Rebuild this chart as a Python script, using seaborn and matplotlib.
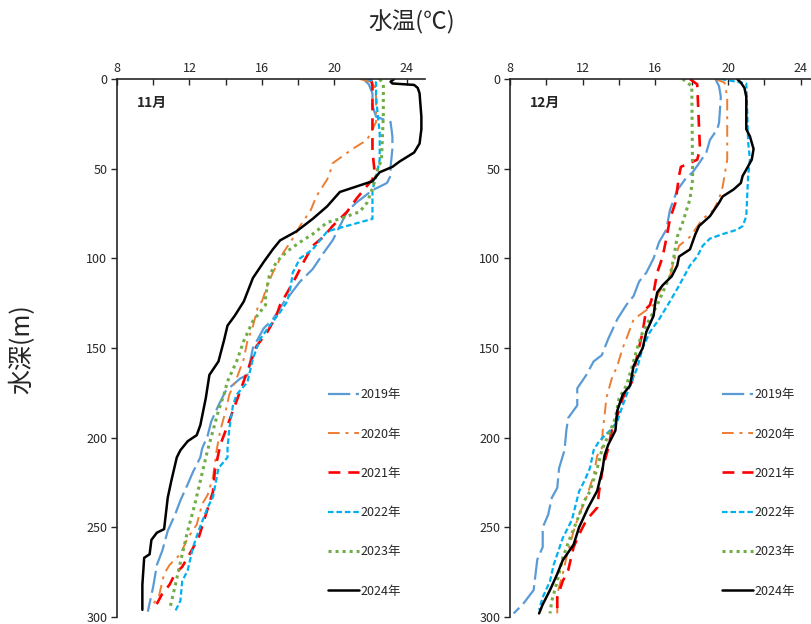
import matplotlib
matplotlib.use("Agg")
import matplotlib.pyplot as plt
from matplotlib.ticker import MultipleLocator
from matplotlib.lines import Line2D
import seaborn as sns

# --- data (depth in m, water temperature in degC) ---
years = ["2019年", "2020年", "2021年", "2022年", "2023年", "2024年"]
colors = ["#5B9BD5", "#ED7D31", "#FF0000", "#00B0F0", "#70AD47", "#000000"]

# November
nov_depth_2019 = [0, 3, 8, 15, 21, 24, 32, 39, 49, 54, 58, 62, 69, 74, 82, 90, 97, 106, 113, 121, 123,
                  134, 139, 150, 165, 167, 174, 182, 191, 199, 206, 211, 219, 226, 235, 243, 252, 263,
                  271, 283, 297]
nov_temp_2019 = [21.6, 21.9, 22.1, 22.1, 22.3, 23.1, 23.2, 23.2, 23.1, 23.1, 22.9, 22.1, 21.2, 20.7,
                 20.3, 19.9, 19.4, 18.8, 18.1, 17.5, 17.3, 16.6, 16.1, 15.5, 15.2, 14.8, 14.0, 13.6,
                 13.2, 13.0, 12.7, 12.6, 12.2, 11.9, 11.5, 11.2, 10.8, 10.5, 10.2, 10.0, 9.7]
nov_depth_2020 = [0, 2, 10, 24, 34, 39, 47, 54, 56, 65.5, 73, 82, 89, 96.5, 108, 115, 124, 126, 138,
                  146, 156, 167, 176, 185, 196, 207, 222, 232, 237, 248.5, 256, 265, 271, 276, 289, 295]
nov_temp_2020 = [21.4, 22.2, 22.3, 22.3, 21.8, 21.0, 19.9, 19.7, 19.6, 19.0, 18.7, 18.1, 17.7, 17.2,
                 16.6, 16.3, 16.0, 15.8, 15.5, 15.2, 15.0, 14.6, 14.2, 14.0, 13.7, 13.5, 13.3, 13.0,
                 12.7, 12.4, 11.9, 11.5, 10.9, 10.6, 10.3, 9.8]
nov_depth_2021 = [0, 3, 20, 40, 50, 56, 62, 67, 74, 82, 88, 93, 102, 110, 119, 126, 132, 141, 149, 160,
                  174, 185, 196, 204, 218.5, 230, 243, 256, 265, 272, 276, 282, 287, 294.5]
nov_temp_2021 = [22.0, 22.1, 22.1, 22.1, 22.2, 22.1, 21.6, 21.2, 20.7, 19.9, 19.4, 18.8, 18.3, 17.9,
                 17.4, 17.0, 16.8, 16.3, 15.7, 15.3, 14.8, 14.4, 14.0, 13.7, 13.4, 13.3, 12.9, 12.5,
                 12.0, 11.6, 11.2, 10.9, 10.5, 10.1]
nov_depth_2022 = [0, 2, 10, 21, 30, 45, 50, 62, 78, 83, 85, 90, 95, 100, 108, 115, 124, 130, 138, 145,
                  156, 169, 176, 182, 195, 206, 211, 217, 233, 239, 252, 261, 274, 280, 291, 297]
nov_temp_2022 = [21.8, 22.3, 22.3, 22.4, 22.5, 22.5, 22.4, 22.1, 22.1, 20.3, 19.6, 19.2, 18.8, 18.1,
                 17.7, 17.6, 17.4, 17.0, 16.4, 15.9, 15.5, 15.2, 14.6, 14.4, 14.2, 14.1, 14.1, 13.6,
                 13.3, 13.0, 12.5, 12.2, 11.9, 11.6, 11.5, 11.2]
nov_depth_2023 = [0, 3, 20, 45, 50, 61, 69, 74, 78, 80, 86.5, 91, 96, 102, 110, 121, 126, 135, 146,
                  157.5, 168.6, 176, 185, 196, 207, 224, 237, 252, 265, 274, 283, 296]
nov_temp_2023 = [22.5, 22.7, 22.7, 22.6, 22.4, 22.1, 21.8, 21.4, 20.3, 19.6, 18.8, 18.1, 17.4, 16.8,
                 16.4, 16.2, 16.2, 15.5, 15.0, 14.6, 14.1, 13.9, 13.6, 13.3, 13.0, 12.6, 12.3, 11.9,
                 11.6, 11.4, 11.2, 10.9]
nov_depth_2024 = [0, 1.5, 2.5, 3.3, 5, 8, 21, 28, 36, 41, 46, 49, 52, 57, 60, 63, 71, 78, 85, 90, 95,
                  102, 111, 124, 132, 137.5, 146, 157.5, 165, 178, 193, 198.6, 202, 207, 211, 224,
                  233.5, 251, 253, 257, 265, 267, 282, 296]
nov_temp_2024 = [23.3, 23.1, 23.2, 24.4, 24.6, 24.7, 24.8, 24.8, 24.7, 24.4, 23.6, 23.2, 22.5, 22.1,
                 21.2, 20.3, 19.6, 18.8, 17.9, 17.0, 16.6, 16.1, 15.5, 15.0, 14.5, 14.1, 13.9, 13.6,
                 13.1, 12.9, 12.6, 12.4, 11.9, 11.5, 11.3, 11.0, 10.8, 10.6, 10.2, 9.9, 9.8, 9.5,
                 9.4, 9.4]

# December
dec_depth_2019 = [0, 4, 10, 24.5, 28, 34, 41, 47, 52, 55, 62, 73, 84, 91, 100, 108, 113, 121, 126,
                  134, 145, 154, 157.5, 165, 172.5, 182, 189, 196, 207, 217, 228, 233.5, 243, 250,
                  261, 268, 285, 293, 298]
dec_temp_2019 = [19.3, 19.5, 19.6, 19.5, 19.4, 19.0, 18.8, 18.4, 18.05, 17.7, 17.2, 16.8, 16.6, 16.2,
                 15.9, 15.5, 15.1, 14.8, 14.4, 13.9, 13.4, 13.05, 12.6, 12.2, 11.7, 11.7, 11.2, 11.1,
                 11.0, 10.7, 10.6, 10.3, 10.1, 9.8, 9.8, 9.5, 9.3, 8.7, 8.2]
dec_depth_2020 = [0, 2, 10, 45, 54, 60, 67, 73, 78, 88, 93, 102, 110, 119, 126, 134, 145, 150, 160,
                  167, 178, 188, 196, 206, 210, 221, 233.5, 243, 252, 267, 276, 287, 298]
dec_temp_2020 = [19.3, 19.8, 19.95, 19.95, 19.8, 19.7, 19.5, 19.2, 18.6, 17.9, 17.3, 17.0, 16.8, 16.2,
                 15.9, 14.8, 14.4, 14.2, 13.9, 13.6, 13.3, 13.2, 13.1, 13.05, 12.8, 12.6, 12.2, 11.8,
                 11.5, 11.1, 10.9, 10.6, 10.6]
dec_depth_2021 = [0, 3, 39, 45, 49, 54, 69, 78, 89, 99, 108, 119, 126, 128, 141, 154, 169, 178, 188,
                  196, 206, 217, 230, 239, 246, 254, 261, 274, 280, 289, 298]
dec_temp_2021 = [17.9, 18.3, 18.45, 18.3, 17.4, 17.3, 17.1, 16.8, 16.6, 16.4, 16.1, 15.9, 15.7, 15.5,
                 15.3, 15.0, 14.7, 14.2, 13.9, 13.6, 13.4, 13.1, 12.9, 12.8, 12.2, 11.8, 11.5, 11.2,
                 10.9, 10.6, 10.6]
dec_depth_2022 = [0, 2.5, 35, 45, 54, 76.5, 82, 84, 86.5, 89, 93, 99, 104, 111.5, 117, 124, 134, 141,
                  150, 161, 171, 182, 191, 196, 202, 207, 217, 224, 230, 246, 256, 265, 271, 280,
                  289, 296]
dec_temp_2022 = [19.6, 21.0, 21.1, 21.2, 21.1, 21.0, 20.8, 20.5, 19.7, 19.0, 18.6, 18.3, 17.9, 17.5,
                 17.2, 16.8, 16.2, 15.7, 15.3, 15.0, 14.6, 14.2, 13.9, 13.5, 12.9, 12.6, 12.4, 12.1,
                 11.8, 11.4, 10.9, 10.6, 10.4, 10.2, 9.8, 9.6]
dec_depth_2023 = [0, 4, 56, 67, 80, 88, 100, 110, 119, 126, 141, 150, 161, 171, 178, 189, 199, 207,
                  217, 230, 235, 246, 256, 267, 280, 291, 298]
dec_temp_2023 = [17.5, 18.0, 18.05, 17.9, 17.5, 17.2, 17.0, 16.8, 16.4, 16.1, 15.3, 15.0, 14.7, 14.4,
                 14.0, 13.8, 13.4, 13.05, 12.8, 12.4, 12.1, 11.7, 11.3, 10.9, 10.6, 10.3, 10.2]
dec_depth_2024 = [0, 2, 5, 10, 28, 32, 39, 45, 50.5, 54, 58, 61.6, 65.5, 69, 76.5, 82, 86.5, 95, 99,
                  104, 110, 115, 119, 124, 132, 141, 150, 160, 171, 176, 185, 196, 204, 210, 217,
                  229.6, 239, 250, 259.6, 268.4, 276, 285, 293, 298]
dec_temp_2024 = [20.5, 20.7, 20.9, 21.0, 21.0, 21.2, 21.4, 21.3, 21.0, 20.8, 20.7, 20.3, 19.7, 19.5,
                 19.0, 18.4, 18.2, 17.9, 17.3, 17.2, 16.9, 16.4, 16.1, 16.0, 15.9, 15.5, 15.3, 14.8,
                 14.6, 14.2, 13.9, 13.8, 13.4, 13.2, 13.1, 12.8, 12.3, 11.8, 11.5, 10.9, 10.6, 10.2,
                 9.8, 9.6]

nov_profiles = [(nov_temp_2019, nov_depth_2019), (nov_temp_2020, nov_depth_2020),
                (nov_temp_2021, nov_depth_2021), (nov_temp_2022, nov_depth_2022),
                (nov_temp_2023, nov_depth_2023), (nov_temp_2024, nov_depth_2024)]
dec_profiles = [(dec_temp_2019, dec_depth_2019), (dec_temp_2020, dec_depth_2020),
                (dec_temp_2021, dec_depth_2021), (dec_temp_2022, dec_depth_2022),
                (dec_temp_2023, dec_depth_2023), (dec_temp_2024, dec_depth_2024)]

line_styles = [
    dict(linestyle=(0, (10, 2.5)), linewidth=1.6),
    dict(linestyle=(0, (6, 3, 1.5, 3)), linewidth=1.4),
    dict(linestyle=(0, (4.5, 3)), linewidth=1.9),
    dict(linestyle=(0, (2.5, 1.3)), linewidth=1.6),
    dict(linestyle=(0, (1, 1.3)), linewidth=2.2),
    dict(linestyle="-", linewidth=1.8),
]

sns.set_style("ticks")
plt.rcParams["font.family"] = ["Noto Sans CJK JP", "DejaVu Sans"]

fig = plt.figure(figsize=(8.11, 6.24), dpi=100)
ax1 = fig.add_axes([117 / 811, 7 / 624, 308 / 811, 538 / 624])
ax2 = fig.add_axes([510 / 811, 7 / 624, 309 / 811, 538 / 624])


def draw_panel(ax, profiles, month_label):
    for (temp, depth), color, style in zip(profiles, colors, line_styles):
        sns.lineplot(x=temp, y=depth, sort=False, estimator=None, color=color, ax=ax, **style)
    ax.set_xlim(8, 25)
    ax.set_ylim(300, 0)
    ax.xaxis.tick_top()
    ax.xaxis.set_major_locator(MultipleLocator(4))
    ax.xaxis.set_minor_locator(MultipleLocator(2))
    ax.yaxis.set_major_locator(MultipleLocator(50))
    ax.tick_params(axis="x", which="both", direction="in", length=4, width=1, labelsize=9, pad=3)
    ax.tick_params(axis="y", direction="out", length=4, width=1, labelsize=9, pad=3)
    for side in ["right", "bottom"]:
        ax.spines[side].set_visible(False)
    for side in ["top", "left"]:
        ax.spines[side].set_linewidth(1.2)
    ax.set_xlabel("")
    ax.set_ylabel("")
    ax.text(0.063, 0.955, month_label, transform=ax.transAxes, fontsize=10,
            fontweight="bold", va="center", ha="left")
    handles = [Line2D([0], [0], color=c, **s) for c, s in zip(colors, line_styles)]
    ax.legend(handles, years, loc="upper left", bbox_to_anchor=(0.685, 0.425), frameon=False,
              fontsize=9, handlelength=2.5, handletextpad=0.1, labelspacing=2.1,
              borderpad=0, borderaxespad=0)


draw_panel(ax1, nov_profiles, "11月")
draw_panel(ax2, dec_profiles, "12月")

fig.text(0.508, 0.965, "水温(℃)", ha="center", va="center", fontsize=17)
fig.text(0.028, 0.44, "水深(m)", ha="center", va="center", fontsize=18, rotation=90)

fig.savefig("out.png", dpi=100)
plt.close(fig)
